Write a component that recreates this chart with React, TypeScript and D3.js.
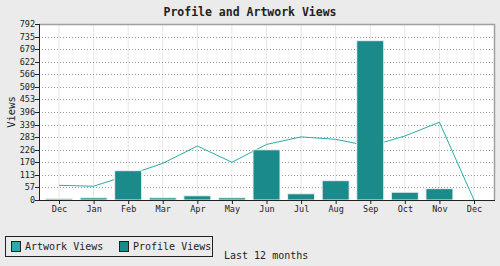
import React from "react";
import * as d3 from "d3";

const months = ["Dec", "Jan", "Feb", "Mar", "Apr", "May", "Jun", "Jul", "Aug", "Sep", "Oct", "Nov", "Dec"];
const profileViews = [6, 10, 132, 10, 19, 10, 226, 28, 87, 717, 35, 51, 0];
const artworkViews = [66, 62, 112, 165, 243, 170, 250, 284, 273, 242, 288, 350, 0];
const yTicks = [0, 57, 113, 170, 226, 283, 339, 396, 453, 509, 566, 622, 679, 735, 792];

const W = 500, H = 266;
const L = 39, R = 495, T = 24, B = 200;
const FONT = "'DejaVu Sans Mono', 'Liberation Mono', monospace";

export default function App() {
  const idx = months.map((_, i) => i);
  const x = d3.scalePoint<number>().domain(idx).range([59, 474]);
  const y = d3.scaleLinear().domain([0, 792]).range([B, T]);
  const barW = 27;
  const line = d3.line<number>().x((_, i) => x(i)!).y((d) => y(d));

  return (
    <svg width={W} height={H} style={{ position: "absolute", left: 0, top: 0 }}>
      <rect x={0} y={0} width={W} height={H} fill="#ebebeb" />
      <text x={250} y={16} textAnchor="middle" fontFamily={FONT} fontWeight="bold" fontSize={11.5} fill="#222">
        Profile and Artwork Views
      </text>
      <rect x={L} y={T} width={R - L} height={B - T} fill="#ffffff" />
      {idx.map((i) => (
        <line key={"vg" + i} x1={x(i)} x2={x(i)} y1={T} y2={B} stroke="#e6e6e6" strokeWidth={1} />
      ))}
      {yTicks.slice(1, -1).map((t) => (
        <line key={"hg" + t} x1={L + 3} x2={R} y1={Math.round(y(t)) + 0.5} y2={Math.round(y(t)) + 0.5}
          stroke="#999" strokeWidth={1} strokeDasharray="1,2" />
      ))}
      <path d={line(artworkViews) || ""} fill="none" stroke="#2aacac" strokeWidth={1} />
      {profileViews.map((v, i) => (
        v > 0 ? (
          <rect key={"b" + i} x={x(i)! - barW / 2} y={y(v)} width={barW} height={B - y(v)}
            fill="#1b8a8a" stroke="#f0f0f0" strokeWidth={1} />
        ) : null
      ))}
      <path d={`M${L},${T + 0.5}H${R - 0.5}V${B}`} fill="none" stroke="#a0a0a0" strokeWidth={1.5} />
      <line x1={L} x2={R} y1={B + 0.5} y2={B + 0.5} stroke="#222" strokeWidth={1} />
      <line x1={L + 0.5} x2={L + 0.5} y1={T} y2={B + 1} stroke="#222" strokeWidth={1} />
      {yTicks.map((t) => (
        <g key={"yt" + t}>
          <line x1={L - 4} x2={L} y1={Math.round(y(t)) + 0.5} y2={Math.round(y(t)) + 0.5} stroke="#222" />
          <text x={L - 4} y={y(t) + 3} textAnchor="end" fontFamily={FONT} fontSize={8.5} fill="#222">{t}</text>
        </g>
      ))}
      {idx.map((i) => (
        <g key={"xt" + i}>
          <line x1={x(i)! + 0.5} x2={x(i)! + 0.5} y1={B} y2={B + 4} stroke="#222" />
          <text x={x(i)! + 0.5} y={212} textAnchor="middle" fontFamily={FONT} fontSize={8.5} fill="#222">{months[i]}</text>
        </g>
      ))}
      <text transform={`translate(15,${(T + B) / 2}) rotate(-90)`} textAnchor="middle" fontFamily={FONT} fontSize={10.5} fill="#222">
        Views
      </text>
      <rect x={5.5} y={236.5} width={207} height={20} fill="#ebebeb" stroke="#222" strokeWidth={1} />
      <rect x={11.5} y={241.5} width={9} height={10} fill="#2aacac" stroke="#222" />
      <text x={25} y={250} fontFamily={FONT} fontSize={10} fill="#222">Artwork Views</text>
      <rect x={119.5} y={241.5} width={9} height={10} fill="#1b8a8a" stroke="#222" />
      <text x={133} y={250} fontFamily={FONT} fontSize={10} fill="#222">Profile Views</text>
      <text x={224} y={259} fontFamily={FONT} fontSize={10} fill="#222">Last 12 months</text>
    </svg>
  );
}
